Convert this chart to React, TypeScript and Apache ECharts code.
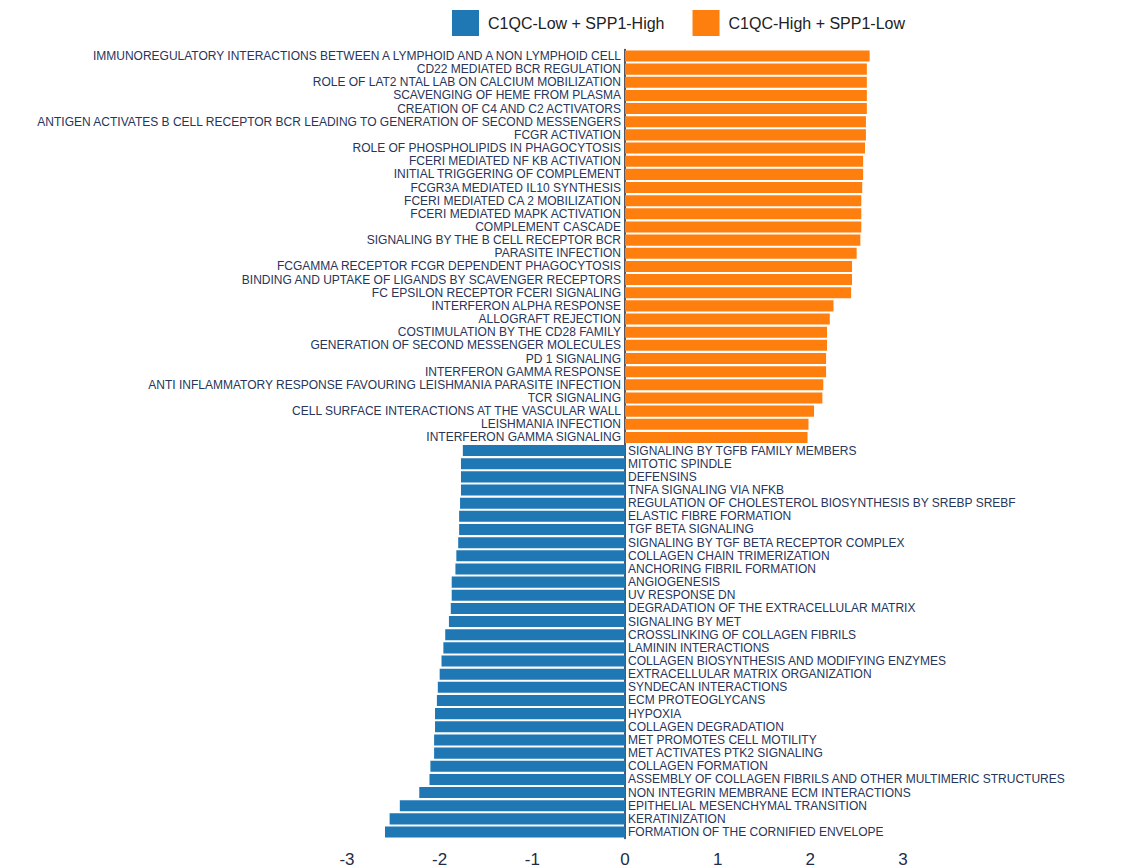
import React, { useEffect, useRef } from "react";
import * as echarts from "echarts";

const orangeNames = [
  "IMMUNOREGULATORY INTERACTIONS BETWEEN A LYMPHOID AND A NON LYMPHOID CELL",
  "CD22 MEDIATED BCR REGULATION",
  "ROLE OF LAT2 NTAL LAB ON CALCIUM MOBILIZATION",
  "SCAVENGING OF HEME FROM PLASMA",
  "CREATION OF C4 AND C2 ACTIVATORS",
  "ANTIGEN ACTIVATES B CELL RECEPTOR BCR LEADING TO GENERATION OF SECOND MESSENGERS",
  "FCGR ACTIVATION",
  "ROLE OF PHOSPHOLIPIDS IN PHAGOCYTOSIS",
  "FCERI MEDIATED NF KB ACTIVATION",
  "INITIAL TRIGGERING OF COMPLEMENT",
  "FCGR3A MEDIATED IL10 SYNTHESIS",
  "FCERI MEDIATED CA 2 MOBILIZATION",
  "FCERI MEDIATED MAPK ACTIVATION",
  "COMPLEMENT CASCADE",
  "SIGNALING BY THE B CELL RECEPTOR BCR",
  "PARASITE INFECTION",
  "FCGAMMA RECEPTOR FCGR DEPENDENT PHAGOCYTOSIS",
  "BINDING AND UPTAKE OF LIGANDS BY SCAVENGER RECEPTORS",
  "FC EPSILON RECEPTOR FCERI SIGNALING",
  "INTERFERON ALPHA RESPONSE",
  "ALLOGRAFT REJECTION",
  "COSTIMULATION BY THE CD28 FAMILY",
  "GENERATION OF SECOND MESSENGER MOLECULES",
  "PD 1 SIGNALING",
  "INTERFERON GAMMA RESPONSE",
  "ANTI INFLAMMATORY RESPONSE FAVOURING LEISHMANIA PARASITE INFECTION",
  "TCR SIGNALING",
  "CELL SURFACE INTERACTIONS AT THE VASCULAR WALL",
  "LEISHMANIA INFECTION",
  "INTERFERON GAMMA SIGNALING",
];
const orangeValues = [
  2.64, 2.61, 2.61, 2.61, 2.61, 2.6, 2.6, 2.59, 2.57, 2.57, 2.56, 2.55, 2.55, 2.55, 2.54,
  2.5, 2.45, 2.45, 2.44, 2.25, 2.21, 2.18, 2.18, 2.17, 2.17, 2.14, 2.13, 2.04, 1.98, 1.97,
];

const blueNames = [
  "SIGNALING BY TGFB FAMILY MEMBERS",
  "MITOTIC SPINDLE",
  "DEFENSINS",
  "TNFA SIGNALING VIA NFKB",
  "REGULATION OF CHOLESTEROL BIOSYNTHESIS BY SREBP SREBF",
  "ELASTIC FIBRE FORMATION",
  "TGF BETA SIGNALING",
  "SIGNALING BY TGF BETA RECEPTOR COMPLEX",
  "COLLAGEN CHAIN TRIMERIZATION",
  "ANCHORING FIBRIL FORMATION",
  "ANGIOGENESIS",
  "UV RESPONSE DN",
  "DEGRADATION OF THE EXTRACELLULAR MATRIX",
  "SIGNALING BY MET",
  "CROSSLINKING OF COLLAGEN FIBRILS",
  "LAMININ INTERACTIONS",
  "COLLAGEN BIOSYNTHESIS AND MODIFYING ENZYMES",
  "EXTRACELLULAR MATRIX ORGANIZATION",
  "SYNDECAN INTERACTIONS",
  "ECM PROTEOGLYCANS",
  "HYPOXIA",
  "COLLAGEN DEGRADATION",
  "MET PROMOTES CELL MOTILITY",
  "MET ACTIVATES PTK2 SIGNALING",
  "COLLAGEN FORMATION",
  "ASSEMBLY OF COLLAGEN FIBRILS AND OTHER MULTIMERIC STRUCTURES",
  "NON INTEGRIN MEMBRANE ECM INTERACTIONS",
  "EPITHELIAL MESENCHYMAL TRANSITION",
  "KERATINIZATION",
  "FORMATION OF THE CORNIFIED ENVELOPE",
];
const blueValues = [
  -1.75, -1.77, -1.77, -1.77, -1.78, -1.79, -1.79, -1.8, -1.82, -1.83, -1.87, -1.87, -1.88,
  -1.9, -1.94, -1.96, -1.98, -2.0, -2.02, -2.03, -2.05, -2.05, -2.06, -2.06, -2.1, -2.11,
  -2.22, -2.43, -2.54, -2.59,
];

const seriesNames = ["C1QC-Low + SPP1-High", "C1QC-High + SPP1-Low"];
const xTicks = { min: -3, max: 3, interval: 1 };

const categories = [...orangeNames, ...blueNames];
const orangeData = [...orangeValues, ...blueValues.map(() => "-")];
const blueData = [...orangeValues.map(() => "-"), ...blueValues];

const labelColor = "#27355a";
const font = "Arial, 'Liberation Sans', Helvetica, sans-serif";

export default function App() {
  const ref = useRef<HTMLDivElement>(null);
  useEffect(() => {
    if (!ref.current) return;
    const chart = echarts.init(ref.current, null, { renderer: "svg" });
    chart.setOption({
      animation: false,
      backgroundColor: "#ffffff",
      textStyle: { fontFamily: font },
      legend: {
        top: 10,
        left: 452,
        padding: 0,
        itemWidth: 27,
        itemHeight: 26,
        itemGap: 28,
        icon: "rect",
        data: seriesNames,
        textStyle: { fontSize: 16, color: "#222", padding: [0, 0, 0, 4], fontFamily: font },
      },
      grid: { left: 347, right: 240, top: 49.4, bottom: 29.4, containLabel: false },
      xAxis: {
        type: "value",
        min: xTicks.min,
        max: xTicks.max,
        interval: xTicks.interval,
        axisLine: { show: false },
        axisTick: { show: false },
        splitLine: { show: false },
        axisLabel: { fontSize: 17, color: "#1f2b47", margin: 12, fontFamily: font },
      },
      yAxis: {
        type: "category",
        data: categories,
        inverse: true,
        axisLine: { show: true, onZero: true, lineStyle: { color: "#1c1c30", width: 1.5 } },
        axisTick: { show: false },
        axisLabel: { show: false },
        splitLine: { show: false },
      },
      series: [
        {
          name: seriesNames[0],
          type: "bar",
          data: blueData,
          barGap: "-100%",
          barCategoryGap: "16%",
          itemStyle: { color: "#1f77b4" },
          label: {
            show: true,
            position: "right",
            distance: 3,
            formatter: (p: any) => p.name,
            fontSize: 12,
            color: labelColor,
            fontFamily: font,
          },
        },
        {
          name: seriesNames[1],
          type: "bar",
          data: orangeData,
          barGap: "-100%",
          barCategoryGap: "16%",
          itemStyle: { color: "#ff7f0e" },
          label: {
            show: true,
            position: "left",
            distance: 4,
            formatter: (p: any) => p.name,
            fontSize: 12,
            color: labelColor,
            fontFamily: font,
          },
        },
      ],
    });
    return () => chart.dispose();
  }, []);
  return (
    <div
      ref={ref}
      style={{ position: "fixed", left: 0, top: 0, width: 1143, height: 868, background: "#fff" }}
    />
  );
}
